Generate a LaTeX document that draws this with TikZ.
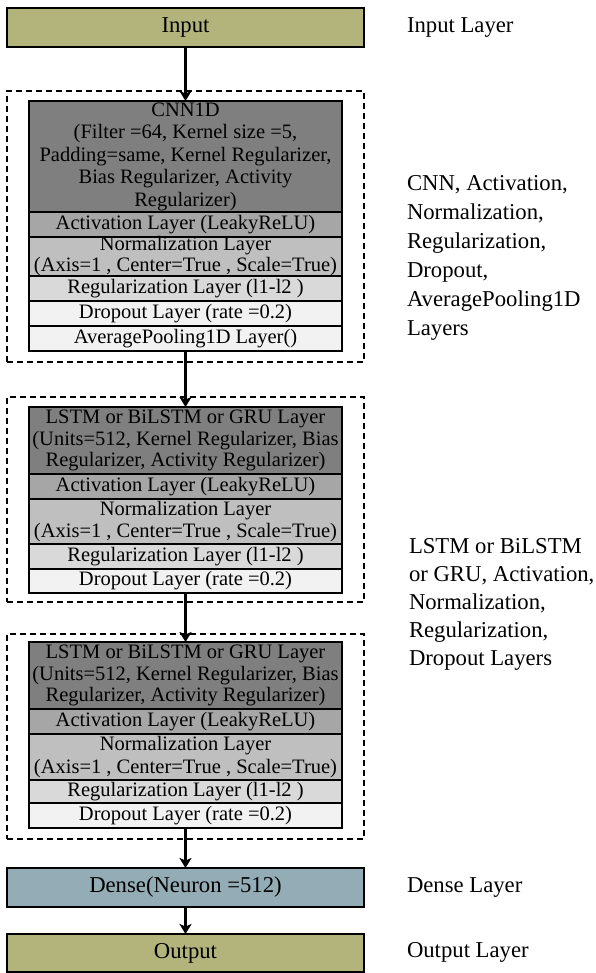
\documentclass[tikz,border=0pt]{standalone}
\usepackage{fontspec}
\setmainfont{Liberation Serif}
\usetikzlibrary{arrows.meta,positioning}

\definecolor{ioFill}{HTML}{B2B47C}
\definecolor{denseFill}{HTML}{93ACB5}
\definecolor{gDark}{HTML}{7F7F7F}
\definecolor{gAct}{HTML}{A6A6A6}
\definecolor{gNorm}{HTML}{BFBFBF}
\definecolor{gReg}{HTML}{D9D9D9}
\definecolor{gDrop}{HTML}{F2F2F2}

\newcommand{\boxfont}{\fontsize{20.5}{22.5}\selectfont}
\newcommand{\sidefont}{\fontsize{22.7}{29}\selectfont}

\begin{document}
\begin{tikzpicture}[x=1pt,y=-1pt,
  every node/.style={inner sep=0pt,outer sep=0pt},
  layer/.style={draw=black,line width=2pt,minimum width=313pt,anchor=north},
  ltext/.style={font=\boxfont,align=center},
  group/.style={draw=black,dashed,dash pattern=on 6pt off 4pt,line width=1.3pt,
    minimum width=357pt,anchor=north},
  wide/.style={draw=black,line width=2pt,minimum width=357pt,anchor=north,font=\sidefont},
  side/.style={font=\sidefont,align=left},
  flow/.style={line width=2.8pt,-{Stealth[length=10pt,width=12pt,inset=2.5pt]}}]
\useasboundingbox (0,0) rectangle (595,973);

% dashed groups
\node[group,minimum height=271pt] (g1) at (185.5,91) {};
\node[group,minimum height=205pt] (g2) at (185.5,397) {};
\node[group,minimum height=205pt] (g3) at (185.5,634) {};

% input
\node[wide,fill=ioFill,minimum height=39pt] (input) at (185.5,8) {Input};

% CNN block
\node[layer,fill=gDark,minimum height=111pt] (cnn) at (185.5,101) {};
\node[ltext] (cnnT) at (cnn) {CNN1D\\(Filter =64, Kernel size =5,\\Padding=same, Kernel Regularizer,\\Bias Regularizer, Activity\\Regularizer)};
\node[layer,fill=gAct,minimum height=25pt,below=0pt of cnn] (act1) {};
\node[ltext] (act1T) at (act1) {Activation Layer (LeakyReLU)};
\node[layer,fill=gNorm,minimum height=39pt,below=0pt of act1] (norm1) {};
\node[ltext,font=\fontsize{20.5}{21}\selectfont] (norm1T) at (norm1) {Normalization Layer\\(Axis=1 , Center=True , Scale=True)};
\node[layer,fill=gReg,minimum height=25pt,below=0pt of norm1] (reg1) {};
\node[ltext] (reg1T) at (reg1) {Regularization Layer (l1-l2 )};
\node[layer,fill=gDrop,minimum height=25pt,below=0pt of reg1] (drop1) {};
\node[ltext] (drop1T) at (drop1) {Dropout Layer (rate =0.2)};
\node[layer,fill=gDrop,minimum height=25pt,below=0pt of drop1] (pool1) {};
\node[ltext] (pool1T) at (pool1) {AveragePooling1D Layer()};

% first recurrent block
\node[layer,fill=gDark,minimum height=67pt] (rnn2) at (185.5,407) {};
\node[ltext,font=\fontsize{20.5}{21.5}\selectfont] (rnn2T) at (rnn2) {LSTM or BiLSTM or GRU Layer\\(Units=512, Kernel Regularizer, Bias\\Regularizer, Activity Regularizer)};
\node[layer,fill=gAct,minimum height=25pt,below=0pt of rnn2] (act2) {};
\node[ltext] (act2T) at (act2) {Activation Layer (LeakyReLU)};
\node[layer,fill=gNorm,minimum height=45pt,below=0pt of act2] (norm2) {};
\node[ltext] (norm2T) at (norm2) {Normalization Layer\\(Axis=1 , Center=True , Scale=True)};
\node[layer,fill=gReg,minimum height=25pt,below=0pt of norm2] (reg2) {};
\node[ltext] (reg2T) at (reg2) {Regularization Layer (l1-l2 )};
\node[layer,fill=gDrop,minimum height=24pt,below=0pt of reg2] (drop2) {};
\node[ltext] (drop2T) at (drop2) {Dropout Layer (rate =0.2)};

% second recurrent block
\node[layer,fill=gDark,minimum height=67pt] (rnn3) at (185.5,642) {};
\node[ltext,font=\fontsize{20.5}{21.5}\selectfont] (rnn3T) at (rnn3) {LSTM or BiLSTM or GRU Layer\\(Units=512, Kernel Regularizer, Bias\\Regularizer, Activity Regularizer)};
\node[layer,fill=gAct,minimum height=25pt,below=0pt of rnn3] (act3) {};
\node[ltext] (act3T) at (act3) {Activation Layer (LeakyReLU)};
\node[layer,fill=gNorm,minimum height=46pt,below=0pt of act3] (norm3) {};
\node[ltext] (norm3T) at (norm3) {Normalization Layer\\(Axis=1 , Center=True , Scale=True)};
\node[layer,fill=gReg,minimum height=23pt,below=0pt of norm3] (reg3) {};
\node[ltext] (reg3T) at (reg3) {Regularization Layer (l1-l2 )};
\node[layer,fill=gDrop,minimum height=25pt,below=0pt of reg3] (drop3) {};
\node[ltext] (drop3T) at (drop3) {Dropout Layer (rate =0.2)};

% dense and output
\node[wide,fill=denseFill,minimum height=39pt] (dense) at (185.5,868) {Dense(Neuron =512)};
\node[wide,fill=ioFill,minimum height=38pt] (output) at (185.5,934) {Output};

% connectors
\draw[flow] (input) -- (cnn);
\draw[flow] (pool1) -- (rnn2);
\draw[flow] (drop2) -- (rnn3);
\draw[flow] (drop3) -- (dense);
\draw[flow] (dense) -- (output);

% side captions
\node[side,anchor=base west] (capIn) at (407,33) {Input Layer};
\node[side,anchor=north west] (capCnn) at (407,175.5) {CNN, Activation,\\Normalization,\\Regularization,\\Dropout,\\AveragePooling1D\\Layers};
\node[side,anchor=north west,font=\fontsize{22.7}{28}\selectfont] (capRnn) at (409,538.5) {LSTM or BiLSTM\\or GRU, Activation,\\Normalization,\\Regularization,\\Dropout Layers};
\node[side,anchor=base west] (capDense) at (407,892) {Dense Layer};
\node[side,anchor=base west] (capOut) at (407,957) {Output Layer};
\end{tikzpicture}
\end{document}
